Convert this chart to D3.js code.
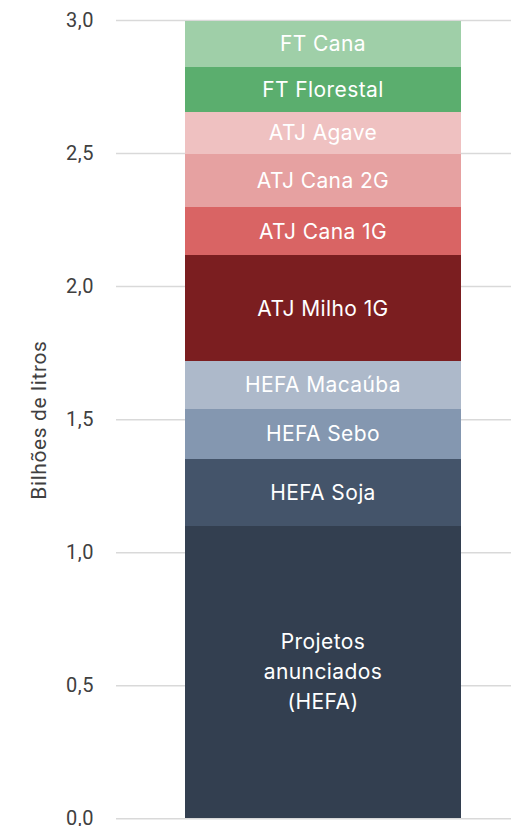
<!DOCTYPE html>
<html><head><meta charset="utf-8">
<script src="https://cdn.jsdelivr.net/npm/d3@7"></script>
<style>
html,body{margin:0;padding:0;background:#fff;}
svg{display:block;}
</style></head>
<body>
<svg id="chart" width="511" height="826"></svg>
<script>
const categories = ["Total"];
const seriesNames = ["Projetos anunciados (HEFA)", "HEFA Soja", "HEFA Sebo", "HEFA Macaúba", "ATJ Milho 1G", "ATJ Cana 1G", "ATJ Cana 2G", "ATJ Agave", "FT Florestal", "FT Cana"];
const seriesLabels = [["Projetos", "anunciados", "(HEFA)"], ["HEFA Soja"], ["HEFA Sebo"], ["HEFA Macaúba"], ["ATJ Milho 1G"], ["ATJ Cana 1G"], ["ATJ Cana 2G"], ["ATJ Agave"], ["FT Florestal"], ["FT Cana"]];
const seriesValues = [1.10, 0.25, 0.188, 0.18, 0.398, 0.181, 0.20, 0.158, 0.17, 0.171];
const seriesColors = ["#333f50", "#44546a", "#8497b0", "#adb9ca", "#7b1e20", "#d96464", "#e6a1a1", "#efc1c1", "#5bae6e", "#9fcfa8"];
const tickValues = [0, 0.5, 1.0, 1.5, 2.0, 2.5, 3.0];
const yTitle = "Bilhões de litros";

(function () {
const svg = d3.select("#chart");
const mLeft = 116, mRight = 530, mTop = 20, mBottom = 818.3;

const y = d3.scaleLinear().domain([0, 3]).range([mBottom, mTop]);
const x = d3.scaleBand().domain(categories).range([mLeft, mRight]).paddingInner(0.2).paddingOuter(0.2);

const fmt = d3.formatLocale({decimal: ",", thousands: ".", grouping: [3], currency: ["", ""]}).format(".1f");

const yAxis = d3.axisLeft(y).tickValues(tickValues).tickFormat(fmt).tickSize(-(511 - mLeft)).tickPadding(22);
const gAxis = svg.append("g").attr("transform", `translate(${mLeft},0)`).call(yAxis);
gAxis.select(".domain").remove();
gAxis.selectAll(".tick line").attr("stroke", "#d9d9d9").attr("stroke-width", 1.5);
gAxis.selectAll(".tick text")
  .attr("fill", "#404040")
  .attr("font-family", "Roboto, 'Liberation Sans', sans-serif")
  .attr("font-size", 20)
  .attr("letter-spacing", 0.5);

const row = {cat: categories[0]};
seriesNames.forEach((n, i) => row[n] = seriesValues[i]);
const stack = d3.stack().keys(seriesNames)([row]);

const g = svg.append("g");
stack.forEach((s, i) => {
  const d = s[0];
  const y0 = Math.round(y(d[0])), y1 = Math.round(y(d[1]));
  g.append("rect")
    .attr("x", Math.round(x(d.data.cat)))
    .attr("width", Math.round(x.bandwidth()))
    .attr("y", y1)
    .attr("height", y0 - y1)
    .attr("fill", seriesColors[i])
    .attr("shape-rendering", "crispEdges");
  const cy = (y(d[0]) + y(d[1])) / 2;
  const lines = seriesLabels[i];
  const lh = 30;
  const t = g.append("text")
    .attr("text-anchor", "middle")
    .attr("fill", "#ffffff")
    .attr("font-family", "Inter, 'Noto Sans', sans-serif")
    .attr("font-size", 21)
    .attr("letter-spacing", 0.4);
  lines.forEach((ln, k) => {
    t.append("tspan")
      .attr("x", x(d.data.cat) + x.bandwidth() / 2)
      .attr("y", cy + (k - (lines.length - 1) / 2) * lh)
      .attr("dy", "0.35em")
      .text(ln);
  });
});

svg.append("text")
  .attr("transform", `translate(46,${(mTop + mBottom) / 2 + 1}) rotate(-90)`)
  .attr("text-anchor", "middle")
  .attr("fill", "#404040")
  .attr("font-family", "Roboto, 'Liberation Sans', sans-serif")
  .attr("font-size", 21)
  .attr("letter-spacing", 0.6)
  .text(yTitle);
})();
</script>
</body></html>
